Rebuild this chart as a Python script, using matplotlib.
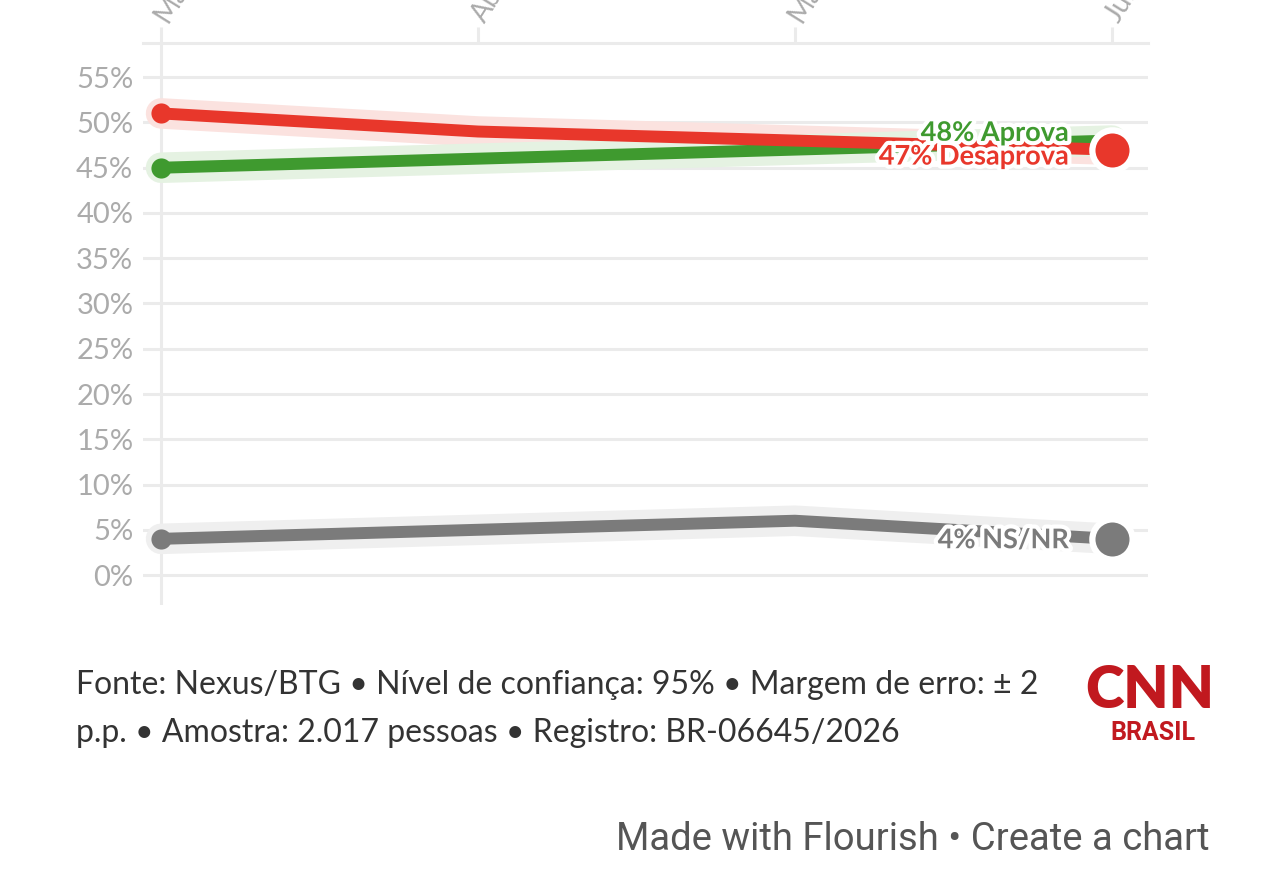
import matplotlib
matplotlib.use('Agg')
import matplotlib.pyplot as plt
import matplotlib.patheffects as pe

# data
months = ['Mar', 'Abr', 'Mai', 'Jun']
aprova = [45, 46, 47, 48]
desaprova = [51, 49, 48, 47]
nsnr = [4, 5, 6, 4]
yticks = list(range(0, 60, 5))

red = '#e8372b'
green = '#3f9a2f'
gray = '#7b7b7b'
grid_c = '#ebebeb'

fig = plt.figure(figsize=(12.84, 8.84), dpi=100)
ax = fig.add_axes([143/1284, 1-605/884, (1148-143)/1284, (605-43)/884])
x = list(range(len(months)))

ax.set_xlim(-0.057, 3.114)
ax.set_ylim(-3.31, 58.78)
ax.set_yticks(yticks)
ax.set_yticklabels([f'{v}%' for v in yticks])
ax.grid(axis='y', color=grid_c, lw=2.2, zorder=0)
ax.axvline(0, color=grid_c, lw=2.2, zorder=0)
for side in ['left', 'right', 'bottom']:
    ax.spines[side].set_visible(False)
ax.spines['top'].set_color(grid_c)
ax.spines['top'].set_linewidth(2.2)
ax.set_axisbelow(True)

ax.tick_params(axis='y', length=0, pad=7, labelcolor='#ababab', labelsize=21)
for lbl in ax.get_yticklabels():
    lbl.set_fontfamily('Lato')

ax.xaxis.tick_top()
ax.set_xticks(x)
ax.set_xticklabels(months)
ax.tick_params(axis='x', length=11.5, width=2.2, color=grid_c, pad=5,
               labelcolor='#ababab', labelsize=20)
for lbl in ax.get_xticklabels():
    lbl.set_rotation(58)
    lbl.set_ha('left')
    lbl.set_va('center')
    lbl.set_rotation_mode('anchor')
    lbl.set_fontfamily('Lato')

bands = {'#fbe2df': desaprova, '#e5f2e2': aprova, '#efefef': nsnr}
for c, vals in bands.items():
    ax.plot(x, vals, color=c, lw=22, solid_capstyle='round',
            solid_joinstyle='round', zorder=1)

for vals, c in [(nsnr, gray), (aprova, green), (desaprova, red)]:
    ax.plot(x, vals, color=c, lw=8.6, solid_capstyle='butt',
            solid_joinstyle='round', zorder=2)
    ax.plot(x[0], vals[0], 'o', color=c, markersize=14.5, mec='none', zorder=3)

stroke = [pe.withStroke(linewidth=6, foreground='white')]
labels = [(aprova, green, 5.5, f'{aprova[-1]}% Aprova'),
          (desaprova, red, -5, f'{desaprova[-1]}% Desaprova'),
          (nsnr, gray, -1, f'{nsnr[-1]}% NS/NR')]
for vals, c, dy, txt in labels:
    ax.annotate(txt, (x[-1], vals[-1]), xytext=(-31, dy), textcoords='offset points',
                ha='right', va='center', color=c, fontsize=19.5, fontweight='bold',
                family='Lato', path_effects=stroke, zorder=4)

for vals, c in [(nsnr, gray), (desaprova, red)]:
    ax.plot(x[-1], vals[-1], 'o', color=c, markersize=29, mec='white', mew=4.5,
            zorder=5, clip_on=False)

fig.text(76/1284, 1-685/884,
         'Fonte: Nexus/BTG • Nível de confiança: 95% • Margem de erro: ± 2',
         fontsize=23, color='#333333', family='Lato', va='center')
fig.text(76/1284, 1-733/884,
         'p.p. • Amostra: 2.017 pessoas • Registro: BR-06645/2026',
         fontsize=23, color='#333333', family='Lato', va='center')

fig.text(1150/1284, 1-690/884, 'CNN', fontsize=42, color='#c1191f',
         fontweight='heavy', family='Lato', ha='center', va='center')
fig.text(1153/1284, 1-733/884, 'BRASIL', fontsize=18, color='#c1191f',
         fontweight='bold', family='Roboto', ha='center', va='center')

fig.text(1210/1284, 1-840/884, 'Made with Flourish • Create a chart',
         fontsize=27.5, color='#555555', family='Roboto', ha='right', va='center')

fig.savefig('out.png', dpi=100, facecolor='white')
